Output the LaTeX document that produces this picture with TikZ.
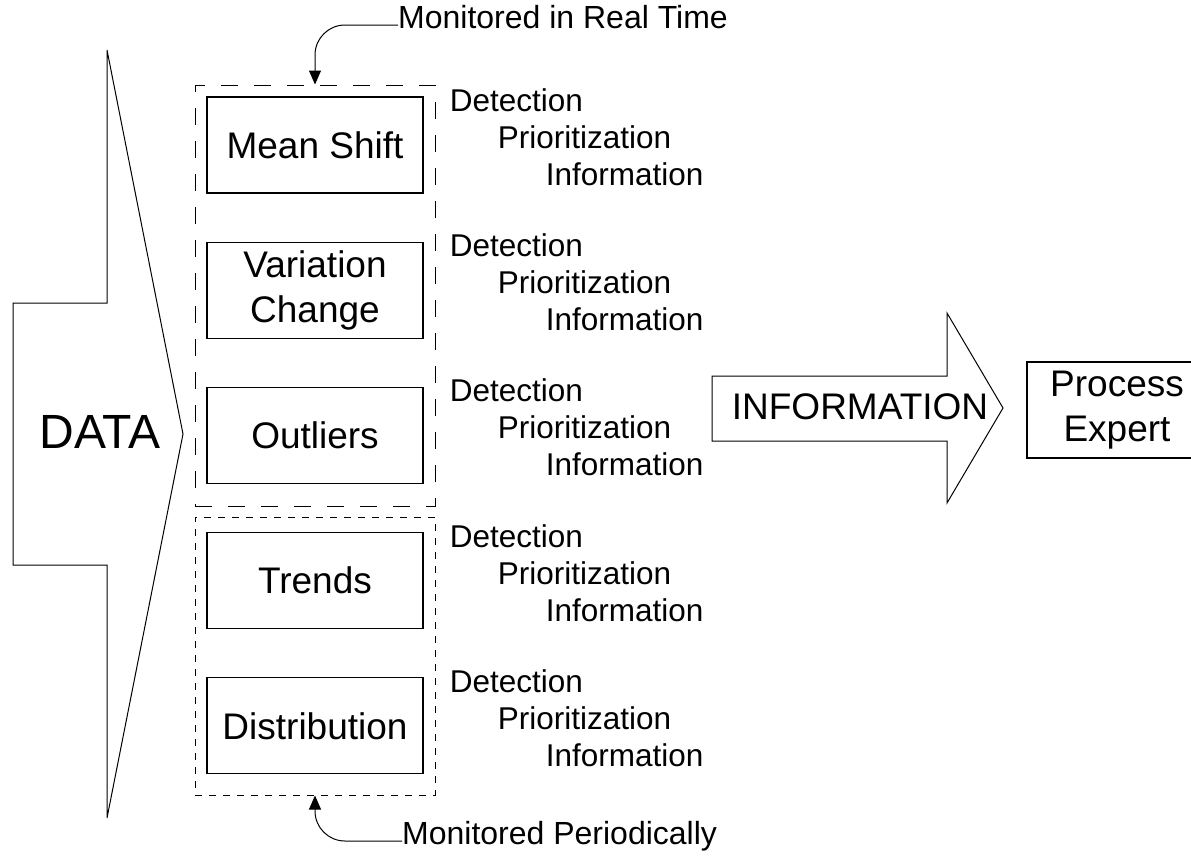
\documentclass[tikz,border=0pt]{standalone}
\usepackage{fontspec}
\setmainfont{Liberation Sans}
\usetikzlibrary{arrows.meta,positioning}

\begin{document}
\begin{tikzpicture}[x=1pt, y=-1pt,
 box/.style={draw, line width=1.2pt, minimum width=216pt, minimum height=96pt, align=center, font=\fontsize{37}{45}\selectfont},
 lbl/.style={anchor=west, inner sep=0pt, text height=0.716em, text depth=0pt, font=\fontsize{31.5}{38}\selectfont},
 blk/.style={draw, line width=1pt, line join=miter},
 grp/.style={draw, line width=1pt, minimum width=240pt, inner sep=0pt},
 mon/.style={-{Triangle[length=14pt,width=12pt]}, line width=1pt, rounded corners=30pt}]

 \useasboundingbox (0,0) rectangle (1191,855);

 % --- DATA ---
 \draw[blk] (13,303) -- (107,303) -- (107,50) -- (183,434) -- (107,818) -- (107,565) -- (13,565) -- cycle;
 \node[font=\fontsize{48}{48}\selectfont] (data) at (100,432) {DATA};

 % --- checks ---
 \node[box] (ms) at (315,145) {Mean Shift};
 \node[box, below=48pt of ms] (vc) {Variation\\Change};
 \node[box, below=48pt of vc] (ol) {Outliers};
 \node[box, below=48pt of ol] (tr) {Trends};
 \node[box, below=48pt of tr] (di) {Distribution};

 \foreach \b in {ms,vc,ol,tr,di} {
 \node[lbl] (\b-det) at ([xshift=26pt, yshift=37pt]\b.east) {Detection};
 \node[lbl] (\b-pri) at ([xshift=74pt]\b.east) {Prioritization};
 \node[lbl] (\b-inf) at ([xshift=122pt, yshift=-37pt]\b.east) {Information};
 }

 % --- monitoring groups ---
 \node[grp, dash pattern=on 17pt off 16pt, minimum height=421pt] (rt) at (315,295.5) {};
 \node[grp, dash pattern=on 7pt off 7pt, minimum height=278pt] (pd) at (315,656) {};

 \node[lbl, font=\fontsize{32}{38}\selectfont] (rt-txt) at (398,25) {Monitored in Real Time};
 \node[lbl, font=\fontsize{32}{38}\selectfont] (pd-txt) at (402,841) {Monitored Periodically};
 \draw[mon] (rt-txt.west) -| (rt.north);
 \draw[mon] (pd-txt.west) -| (pd.south);

 % --- INFORMATION ---
 \draw[blk] (712,376) -- (947,376) -- (947,313) -- (1003,408) -- (947,503) -- (947,441) -- (712,441) -- cycle;
 \node[font=\fontsize{37}{37}\selectfont] (info) at (860,407) {INFORMATION};
 \node[box, minimum width=180pt] (pe) at (1117,410) {Process\\Expert};
\end{tikzpicture}
\end{document}
